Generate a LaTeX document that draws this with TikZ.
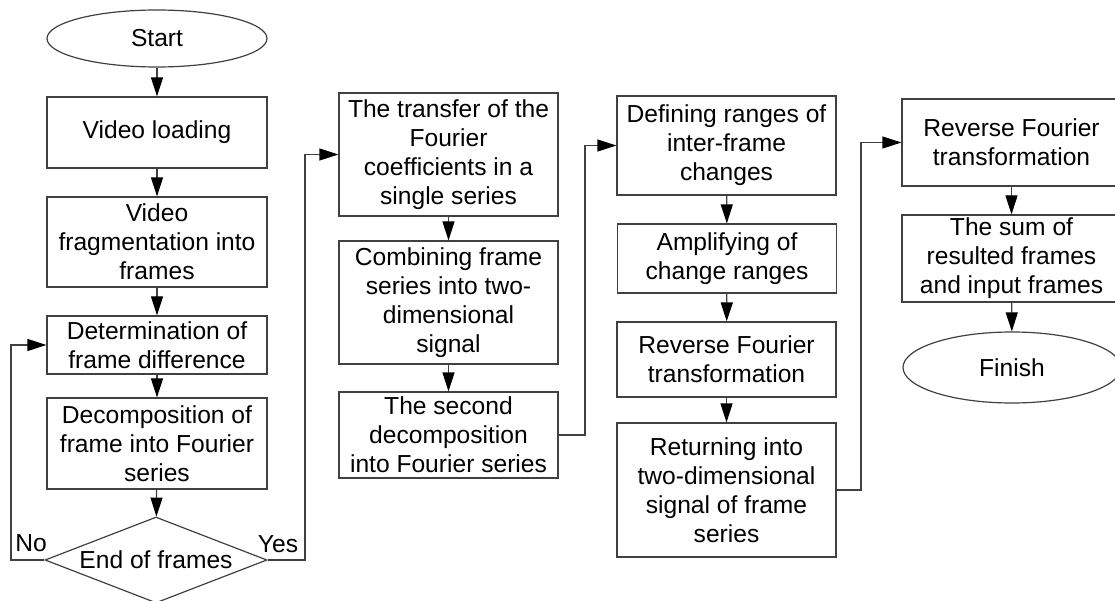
\documentclass[tikz,border=0pt]{standalone}
\usepackage{fontspec}
\setmainfont{Liberation Sans}
\usetikzlibrary{shapes.geometric,arrows.meta}
\tikzstyle{proceso} = [draw=black!75, line width=1.2pt, rectangle, minimum width=219pt, inner sep=0pt, align=center, font=\fontsize{24.6}{29}\selectfont]
\tikzstyle{terminal} = [proceso, ellipse]
\tikzstyle{decision} = [proceso, diamond, aspect=2.58]
\tikzstyle{etiqueta} = [inner sep=0pt, font=\fontsize{24.6}{29}\selectfont]
\tikzstyle{flecha} = [draw=black!75, line width=1.2pt, ->]

\begin{document}
\begin{tikzpicture}[x=1pt,y=-1pt, >={Triangle[length=19pt,width=12pt,color=black]}]
	\useasboundingbox (0,0) rectangle (1115,601);
	\node[terminal, minimum width=220pt, minimum height=57pt] (inicio) at (157,38.5) {Start};
	\node[proceso, minimum width=220pt, minimum height=71pt] (carga) at (157,132.5) {Video loading};
	\node[proceso, minimum width=220pt, minimum height=90pt] (fragmentos) at (157,242) {Video\\fragmentation into\\frames};
	\node[proceso, minimum width=220pt, minimum height=58pt] (diferencia) at (157,345) {Determination of\\frame difference};
	\node[proceso, minimum width=220pt, minimum height=91pt] (descomposicion) at (157,443.5) {Decomposition of\\frame into Fourier\\series};
	\node[decision, minimum width=222pt, minimum height=86pt] (finmarcos) at (156,560) {End of frames};
	\node[etiqueta] (no) at (31,543) {No};
	\node[etiqueta] (si) at (278,544) {Yes};

	\node[proceso, minimum height=123pt] (transferencia) at (448.5,154.5) {The transfer of the\\Fourier\\coefficients in a\\single series};
	\node[proceso, minimum height=123pt] (combinacion) at (448.5,302.5) {Combining frame\\series into two-\\dimensional\\signal};
	\node[proceso, minimum height=86pt] (segunda) at (448.5,435) {The second\\decomposition\\into Fourier series};

	\node[proceso, minimum height=99pt] (rangos) at (726.5,145.5) {Defining ranges of\\inter-frame\\changes};
	\node[proceso, minimum height=69pt] (amplificacion) at (727,258.5) {Amplifying of\\change ranges};
	\node[proceso, minimum height=75pt] (inversa) at (726.5,359.5) {Reverse Fourier\\transformation};
	\node[proceso, minimum height=134pt] (retorno) at (726.5,490) {Returning into\\two-dimensional\\signal of frame\\series};

	\node[proceso, minimum height=87pt] (inversafinal) at (1011.5,142.5) {Reverse Fourier\\transformation};
	\node[proceso, minimum height=87pt] (suma) at (1011.5,258.5) {The sum of\\resulted frames\\and input frames};
	\node[terminal, minimum width=218pt, minimum height=71pt] (fin) at (1012,367.5) {Finish};

	\coordinate (izquierda) at (11,0);
	\coordinate (derecha) at (305,0);
	\coordinate (paso2) at (585,0);
	\coordinate (paso3) at (861,0);

	\foreach \a/\b in {inicio/carga, carga/fragmentos, fragmentos/diferencia, diferencia/descomposicion, descomposicion/finmarcos, transferencia/combinacion, combinacion/segunda, rangos/amplificacion, amplificacion/inversa, inversa/retorno, inversafinal/suma, suma/fin}
		\draw[flecha] (\a) -- (\b);

	\draw[flecha] (finmarcos.west) -- (finmarcos.west -| izquierda) |- (diferencia.west);
	\draw[flecha] (finmarcos.east) -- (finmarcos.east -| derecha) |- (transferencia.west);
	\draw[flecha] (segunda.east) -- (segunda.east -| paso2) |- (rangos.west);
	\draw[flecha] (retorno.east) -- (retorno.east -| paso3) |- (inversafinal.west);
\end{tikzpicture}
\end{document}
